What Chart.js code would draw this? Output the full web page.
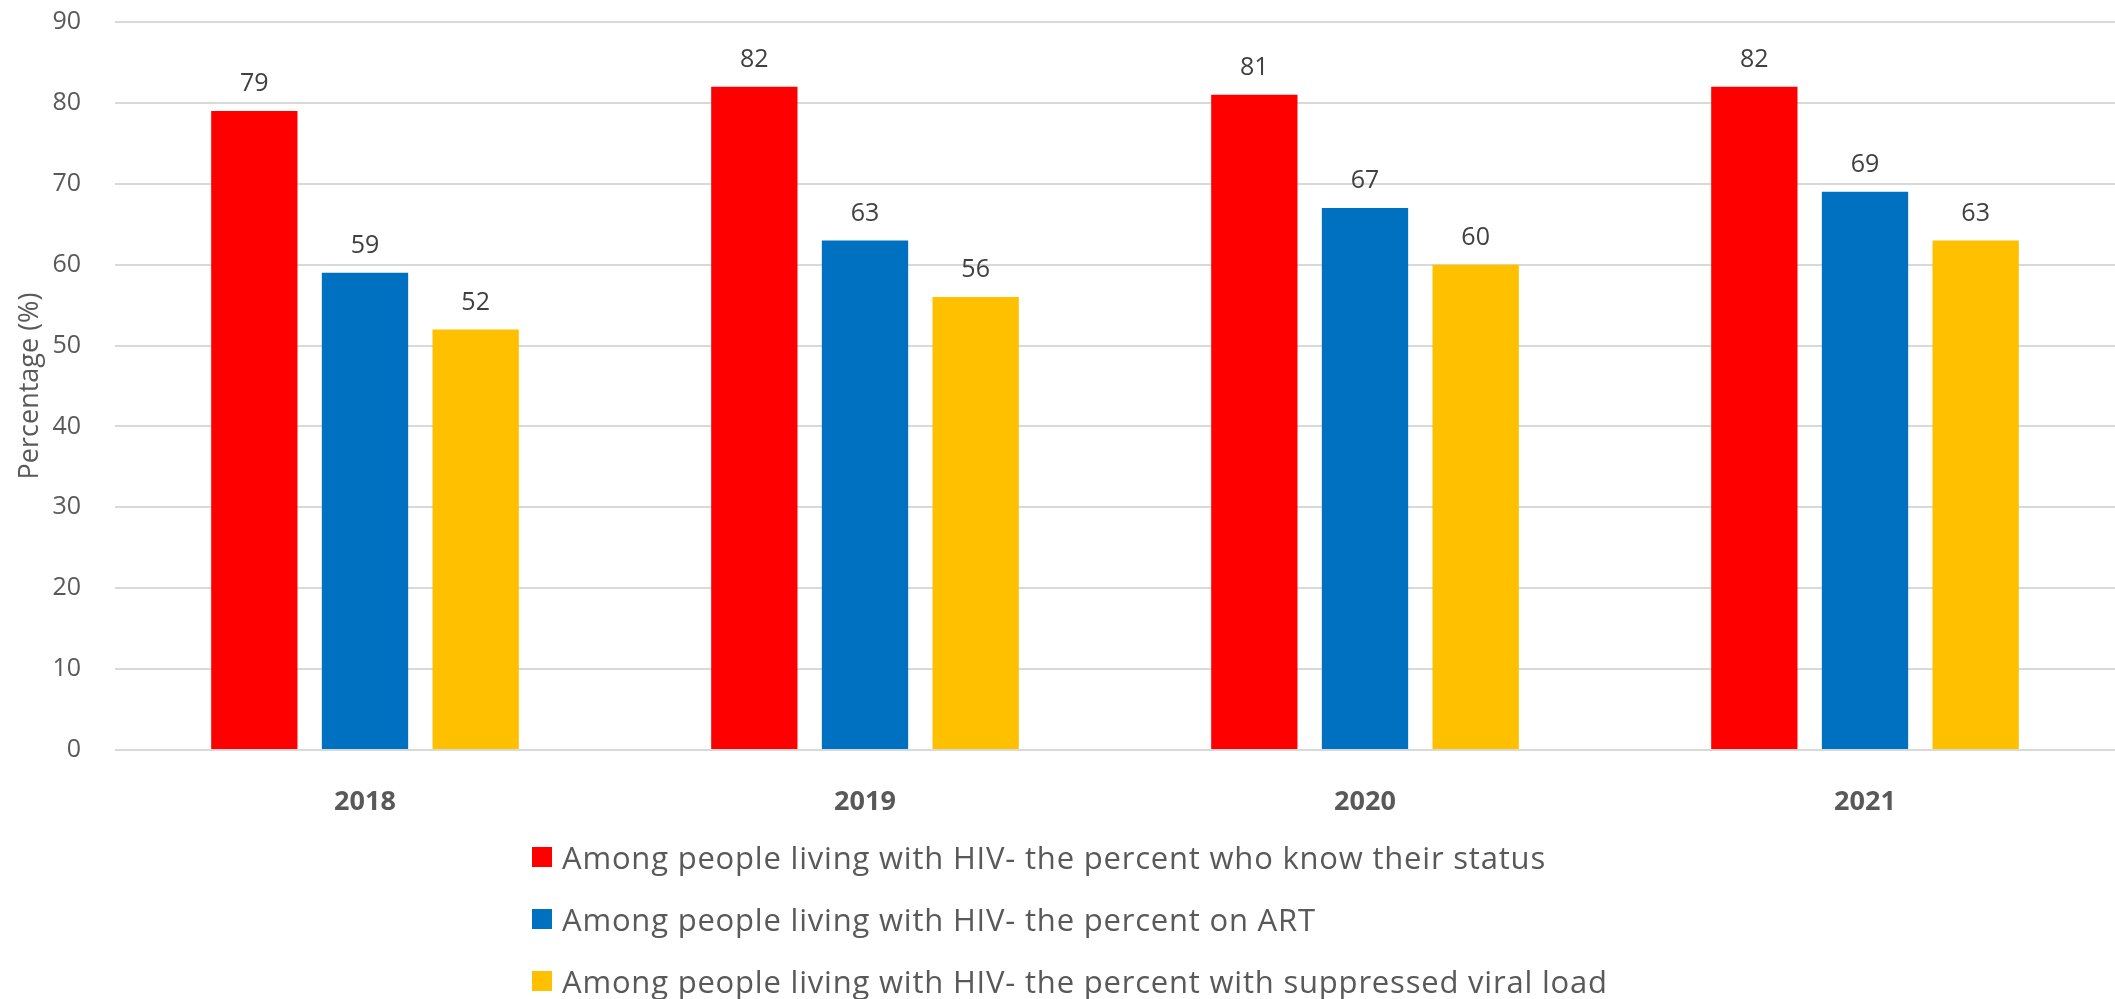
<!DOCTYPE html>
<html lang="en">
<head>
<meta charset="UTF-8">
<title>HIV cascade</title>
<script src="https://cdn.jsdelivr.net/npm/chart.js@4.4.0/dist/chart.umd.min.js"></script>
<style>
  body{margin:0;background:#fff;}
  .wrap{position:relative;width:2115px;height:999px;overflow:hidden;}
  #chart{position:absolute;left:0;top:-27px;}
  #legend{position:absolute;left:532px;top:826px;font-family:"Open Sans", sans-serif;font-size:31px;letter-spacing:0.8px;color:#595959;}
  .item{height:62px;display:flex;align-items:center;white-space:nowrap;}
  .box{width:20px;height:20px;margin-right:10px;}
</style>
</head>
<body>
<div class="wrap">
  <canvas id="chart" width="2115" height="1026"></canvas>
  <div id="legend"></div>
</div>
<script>
const years = ['2018', '2019', '2020', '2021'];
const knowStatus = [79, 82, 81, 82];
const onArt = [59, 63, 67, 69];
const suppressed = [52, 56, 60, 63];
const seriesNames = [
  'Among people living with HIV- the percent who know their status',
  'Among people living with HIV- the percent on ART',
  'Among people living with HIV- the percent with suppressed viral load'
];
const seriesColors = ['#FF0000', '#0070C0', '#FFC000'];

// value labels over each bar
const barLabels = {
  id: 'barLabels',
  afterDatasetsDraw(chart) {
    const ctx = chart.ctx;
    ctx.save();
    ctx.font = '25px "Open Sans"';
    ctx.fillStyle = '#404040';
    ctx.textAlign = 'center';
    ctx.textBaseline = 'middle';
    chart.data.datasets.forEach((ds, i) => {
      chart.getDatasetMeta(i).data.forEach((bar, j) => {
        ctx.fillText(ds.data[j], bar.x, bar.y - 27);
      });
    });
    ctx.restore();
  }
};

const values = [knowStatus, onArt, suppressed];
const chart = new Chart(document.getElementById('chart'), {
  type: 'bar',
  data: {
    labels: years,
    datasets: values.map((v, i) => ({
      label: seriesNames[i],
      data: v,
      backgroundColor: seriesColors[i],
      categoryPercentage: 0.664,
      barPercentage: 0.78
    }))
  },
  options: {
    responsive: false,
    animation: false,
    layout: {padding: {left: 0, top: 20, right: 0, bottom: 0}},
    plugins: {legend: {display: false}, tooltip: {enabled: false}},
    scales: {
      x: {
        grid: {display: false},
        border: {display: false},
        ticks: {color: '#595959', padding: 28, font: {family: 'Open Sans', size: 27, weight: 'bold'}},
        afterFit(scale) { scale.height = 249; }
      },
      y: {
        min: 0,
        max: 90,
        grid: {color: '#d9d9d9', lineWidth: 2, drawTicks: false},
        border: {display: false},
        ticks: {stepSize: 10, color: '#595959', padding: 34, font: {family: 'Open Sans', size: 25}},
        title: {display: true, text: 'Percentage (%)', color: '#595959', padding: {top: 14, bottom: 0}, font: {family: 'Open Sans', size: 27}},
        afterFit(scale) { scale.width = 115; }
      }
    }
  },
  plugins: [barLabels]
});

// legend stacked one per row
const legend = document.getElementById('legend');
seriesNames.forEach((name, i) => {
  const row = document.createElement('div');
  row.className = 'item';
  row.innerHTML = '<span class="box" style="background:' + seriesColors[i] + '"></span><span>' + name + '</span>';
  legend.appendChild(row);
});
</script>
</body>
</html>
